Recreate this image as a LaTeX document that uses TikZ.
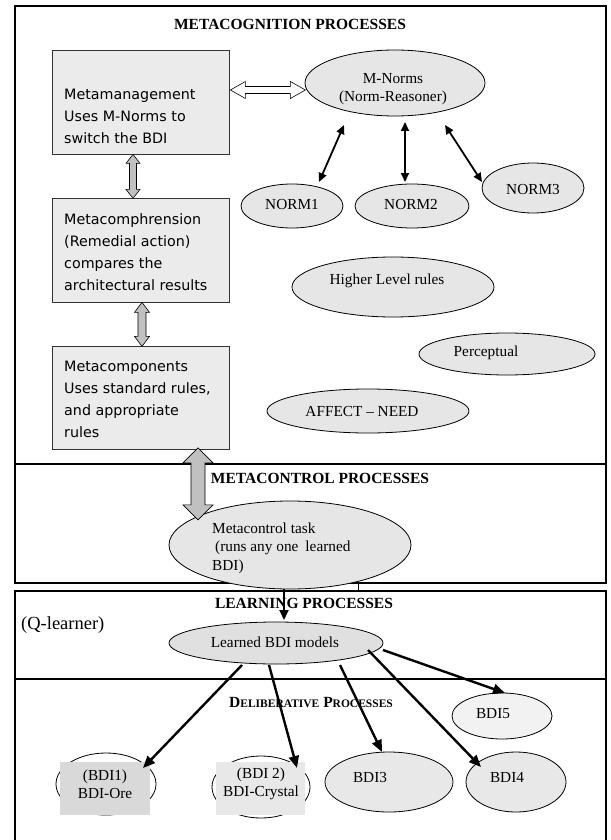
\documentclass[tikz,border=0pt]{standalone}
\usepackage{fontspec}
\setmainfont{Liberation Serif}
\newfontfamily\comicf{DejaVu Sans}
\usetikzlibrary{arrows.meta,calc,shapes.geometric}

\definecolor{boxfill}{HTML}{EBEBEB}
\definecolor{ellfill}{HTML}{E6E6E6}
\definecolor{arrgray}{HTML}{C0C0C0}
\definecolor{bdidark}{HTML}{D9D9D9}
\definecolor{bdilight}{HTML}{E8E8E8}
\definecolor{bdipale}{HTML}{F2F2F2}
\definecolor{learnfill}{HTML}{E0E0E0}

\newcommand{\vdblarrow}[5]{\filldraw[fill=#5,draw=black,line width=0.6pt] (0,0) -- (#3,#4) -- (#2,#4) -- (#2,{#1-#4}) -- (#3,{#1-#4}) -- (0,#1) -- (-#3,{#1-#4}) -- (-#2,{#1-#4}) -- (-#2,#4) -- (-#3,#4) -- cycle;}
\newcommand{\hdblarrow}[5]{\filldraw[fill=#5,draw=black,line width=0.6pt] (0,0) -- (#4,-#3) -- (#4,-#2) -- ({#1-#4},-#2) -- ({#1-#4},-#3) -- (#1,0) -- ({#1-#4},#3) -- ({#1-#4},#2) -- (#4,#2) -- (#4,#3) -- cycle;}

\begin{document}
\begin{tikzpicture}[x=1pt,y=-1pt,
  frame/.style={line width=2.2pt},
  mbox/.style={draw=black!80, line width=0.8pt, fill=boxfill, rectangle, inner sep=0pt},
  ell/.style={draw, line width=0.8pt, ellipse, inner sep=0pt, fill=ellfill},
  txt/.style={inner sep=0pt, font=\fontsize{15.3}{18}\selectfont, align=center},
  boxtxt/.style={inner sep=0pt, anchor=west, align=left, font=\comicf\fontsize{14.3}{22}\selectfont},
  ttl/.style={inner sep=0pt, font=\bfseries\fontsize{15.5}{18}\selectfont},
  normarr/.style={line width=1.8pt, {Triangle[length=9pt,width=8pt]}-{Triangle[length=9pt,width=8pt]}},
  bdiarr/.style={line width=2.4pt, -{Triangle[length=12pt,width=10pt]}},
]
\useasboundingbox (0,0) rectangle (610,840);
\fill[white] (0,0) rectangle (610,840);

% frames
\draw[frame] (15,6) rectangle (606,464);
\draw[frame] (15,464) rectangle (606,583);
\draw[frame] (15,591) rectangle (606,679);
\draw[frame] (15,842) -- (15,679) -- (606,679) -- (606,842);
\coordinate (tickA) at (358,583);
\coordinate (tickB) at (358,591);
\draw[line width=0.8pt] (tickA) -- (tickB);

% titles
\node[ttl] (t1) at (290,24) {METACOGNITION PROCESSES};
\node[ttl] (t2) at (320,478) {METACONTROL PROCESSES};
\node[ttl] (t3) at (304,603) {LEARNING PROCESSES};
\node[ttl] (t4) at (311,703) {D{\fontsize{11.5}{14}\selectfont ELIBERATIVE} P{\fontsize{11.5}{14}\selectfont ROCESSES}};
\node[inner sep=0pt, anchor=west, font=\fontsize{18.5}{22}\selectfont] (ql) at (21,625) {(Q-learner)};

% boxes
\node[mbox, minimum width=177pt, minimum height=104pt] (mm) at (140.5,102) {};
\node[boxtxt] (mmT) at (64,116.5) {Metamanagement\\Uses M-Norms to\\switch the BDI};
\node[mbox, minimum width=177pt, minimum height=104pt] (mc) at (140.5,250) {};
\node[boxtxt] (mcT) at (64,252) {Metacomphrension\\(Remedial action)\\compares the\\architectural results};
\node[mbox, minimum width=177pt, minimum height=103pt] (mp) at (140.5,397.5) {};
\node[boxtxt] (mpT) at (64,399.5) {Metacomponents\\Uses standard rules,\\and appropriate\\rules};

% ellipses
\node[ell, minimum width=180pt, minimum height=66pt] (mn) at (395,83) {};
\node[txt] (mnT) at (393,89) {M-Norms\\(Norm-Reasoner)};
\node[ell, minimum width=102pt, minimum height=44pt] (n1) at (292,206) {};
\node[txt] (n1T) at (292,205) {NORM1};
\node[ell, minimum width=114pt, minimum height=44pt] (n2) at (412,206) {};
\node[txt] (n2T) at (411,205) {NORM2};
\node[ell, minimum width=102pt, minimum height=50pt] (n3) at (533,188) {};
\node[txt] (n3T) at (533,190) {NORM3};
\node[ell, minimum width=202pt, minimum height=60pt] (hl) at (393,287) {};
\node[txt] (hlT) at (387,281) {Higher Level rules};
\node[ell, minimum width=176pt, minimum height=42pt] (pc) at (507,354) {};
\node[txt] (pcT) at (486,353) {Perceptual};
\node[ell, minimum width=202pt, minimum height=44pt] (af) at (368,411) {};
\node[txt] (afT) at (362,412) {AFFECT – NEED};

\node[ell, minimum width=242pt, minimum height=88pt] (mt) at (290,545) {};
\node[txt, anchor=west, align=left, font=\fontsize{15.3}{18.5}\selectfont] (mtT) at (212,548) {Metacontrol task\\\hspace{3pt}(runs any one\hspace{7pt}learned\\BDI)};

\node[ell, fill=learnfill, minimum width=214pt, minimum height=42pt] (lb) at (276,643) {};
\node[txt] (lbT) at (275,642) {Learned BDI models};

% BDIs
\node[ell, fill=white, minimum width=100pt, minimum height=62pt] (b1) at (106,784) {};
\fill[bdidark] (60,762) rectangle (150,815);
\node[txt] (b1T) at (105,784) {(BDI1)\\BDI-Ore};
\node[ell, fill=white, minimum width=98pt, minimum height=62pt] (b2) at (261,787) {};
\fill[bdilight] (216,762) rectangle (305,815);
\node[txt] (b2T) at (261,784) {(BDI 2)\\BDI-Crystal};
\node[ell, fill=bdilight, minimum width=128pt, minimum height=60pt] (b3) at (389,782) {};
\node[txt] (b3T) at (370,777) {BDI3};
\node[ell, fill=bdilight, minimum width=100pt, minimum height=60pt] (b4) at (516,782) {};
\node[txt] (b4T) at (507,777) {BDI4};
\node[ell, fill=bdipale, minimum width=100pt, minimum height=46pt] (b5) at (502,716) {};
\node[txt] (b5T) at (493,714) {BDI5};

% block arrows
\begin{scope}[shift={($(mm.east)+(1,-12)$)}]
  \hdblarrow{75}{3.5}{8.5}{15}{white}
\end{scope}
\begin{scope}[shift={($(mm.south)+(-7.5,0)$)}]
  \vdblarrow{44}{3.5}{7}{9}{arrgray}
\end{scope}
\begin{scope}[shift={($(mc.south)+(1.5,0)$)}]
  \vdblarrow{44}{4}{7.5}{10}{arrgray}
\end{scope}
\begin{scope}[shift={($(mp.south)+(57.5,-1.5)$)}]
  \vdblarrow{72}{7}{15}{15}{arrgray}
\end{scope}

% norm arrows
\draw[normarr] ($(mn.center)+(-51,42)$) -- ($(n1.center)+(27,-24)$);
\draw[normarr] ($(mn.center)+(10,39)$) -- ($(n2.center)+(-7,-24)$);
\draw[normarr] ($(mn.center)+(50,42)$) -- ($(n3.center)+(-51,-6)$);

% metacontrol -> learned
\draw[line width=1.8pt, -{Triangle[length=10pt,width=9pt]}] ($(mt.center)+(-6,44)$) -- ($(lb.center)+(8,-23)$);

% learned -> BDIs
\draw[bdiarr] ($(lb.center)+(-34,22)$) -- ($(b1.center)+(37,-16)$);
\draw[bdiarr] ($(lb.center)+(-7,22)$) -- ($(b2.center)+(36,-19)$);
\draw[bdiarr] ($(lb.center)+(64,22)$) -- ($(b3.center)+(-7,-30)$);
\draw[bdiarr] ($(lb.center)+(92,7)$) -- ($(b4.center)+(-35,-15)$);
\draw[bdiarr] ($(lb.center)+(107,7)$) -- ($(b5.center)+(3,-23)$);
\end{tikzpicture}
\end{document}
